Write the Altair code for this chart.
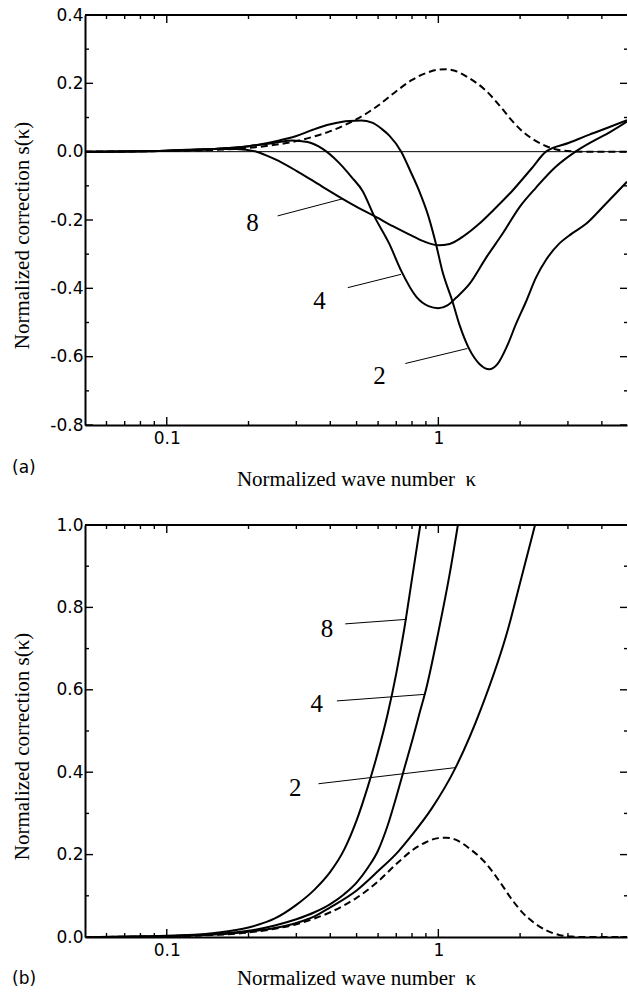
import altair as alt
import pandas as pd

# ---------------- data ----------------
# panel (a) — solid curves labelled 2, 4, 8 and the dashed reference curve
k_a2 = [0.05, 0.1, 0.15, 0.2, 0.26, 0.3, 0.345, 0.4, 0.47, 0.52, 0.57, 0.62, 0.66, 0.73, 0.79, 0.85,
        0.92, 0.98, 1.035, 1.126, 1.2, 1.3, 1.42, 1.54, 1.65, 1.8, 1.93, 2.1, 2.29, 2.5, 2.78, 3.1,
        3.49, 4.13, 4.95]
s_a2 = [0.0, 0.003, 0.008, 0.016, 0.033, 0.046, 0.064, 0.08, 0.09, 0.091, 0.085, 0.066, 0.047, 0.0,
        -0.058, -0.115, -0.19, -0.27, -0.35, -0.437, -0.51, -0.578, -0.622, -0.637, -0.622, -0.565,
        -0.505, -0.44, -0.368, -0.315, -0.27, -0.24, -0.212, -0.153, -0.088]

k_a4 = [0.05, 0.1, 0.15, 0.2, 0.25, 0.29, 0.33, 0.375, 0.43, 0.48, 0.526, 0.58, 0.66, 0.73, 0.83,
        0.92, 1.0, 1.08, 1.165, 1.3, 1.5, 1.72, 2.0, 2.29, 2.7, 3.2, 3.7, 4.3, 4.95]
s_a4 = [0.0, 0.003, 0.008, 0.016, 0.026, 0.033, 0.028, 0.008, -0.032, -0.075, -0.115, -0.188, -0.27,
        -0.349, -0.425, -0.452, -0.458, -0.45, -0.427, -0.388, -0.31, -0.241, -0.16, -0.105, -0.045,
        0.0, 0.03, 0.058, 0.088]

k_a8 = [0.05, 0.1, 0.15, 0.18, 0.214, 0.25, 0.3, 0.37, 0.444, 0.51, 0.58, 0.68, 0.78, 0.88, 1.0, 1.1,
        1.25, 1.41, 1.6, 1.87, 2.2, 2.49, 3.03, 3.6, 4.2, 4.95]
s_a8 = [0.0, 0.003, 0.008, 0.008, 0.0, -0.022, -0.056, -0.1, -0.138, -0.165, -0.188, -0.218, -0.242,
        -0.262, -0.274, -0.27, -0.245, -0.212, -0.17, -0.115, -0.05, 0.0, 0.026, 0.05, 0.07, 0.092]

k_dash = [0.05, 0.1, 0.15, 0.2, 0.25, 0.3, 0.35, 0.4, 0.45, 0.5, 0.6, 0.7, 0.8, 0.9, 1.0, 1.07, 1.15,
          1.3, 1.5, 1.7, 1.87, 2.05, 2.29, 2.5, 2.78, 3.1, 3.5, 4.95]
s_dash = [0.0, 0.002, 0.005, 0.011, 0.02, 0.031, 0.045, 0.06, 0.077, 0.095, 0.135, 0.177, 0.21, 0.23,
          0.24, 0.241, 0.237, 0.215, 0.178, 0.13, 0.09, 0.058, 0.031, 0.016, 0.005, 0.001, 0.0, 0.0]

# panel (b)
k_b2 = [0.05, 0.1, 0.15, 0.2, 0.25, 0.3, 0.35, 0.4, 0.5, 0.6, 0.713, 0.796, 0.943, 1.155, 1.44, 1.81,
        2.0, 2.27]
s_b2 = [0.0, 0.002, 0.006, 0.013, 0.022, 0.034, 0.05, 0.072, 0.113, 0.16, 0.208, 0.246, 0.311, 0.41,
        0.556, 0.75, 0.86, 1.0]

k_b4 = [0.05, 0.1, 0.15, 0.2, 0.25, 0.3, 0.35, 0.4, 0.45, 0.5, 0.55, 0.6, 0.65, 0.7, 0.75, 0.8, 0.85,
        0.9, 1.0, 1.1, 1.18]
s_b4 = [0.0, 0.002, 0.007, 0.015, 0.028, 0.043, 0.06, 0.08, 0.104, 0.132, 0.168, 0.21, 0.27, 0.34,
        0.41, 0.475, 0.54, 0.6, 0.74, 0.88, 1.0]

k_b8 = [0.05, 0.1, 0.15, 0.2, 0.25, 0.3, 0.35, 0.4, 0.45, 0.5, 0.55, 0.6, 0.65, 0.7, 0.75, 0.8, 0.858]
s_b8 = [0.0, 0.003, 0.01, 0.023, 0.045, 0.078, 0.115, 0.158, 0.212, 0.283, 0.365, 0.45, 0.54, 0.64,
        0.75, 0.87, 1.0]

# curve labels and leader lines
lab_text = ["8", "4", "2"]
lab_a_k = [0.207, 0.365, 0.607]
lab_a_s = [-0.209, -0.437, -0.656]
lead_a_k1 = [0.256, 0.464, 0.756]
lead_a_s1 = [-0.188, -0.398, -0.62]
lead_a_k2 = [0.444, 0.729, 1.28]
lead_a_s2 = [-0.138, -0.359, -0.576]

lab_b_k = [0.389, 0.357, 0.297]
lab_b_s = [0.747, 0.565, 0.362]
lead_b_k1 = [0.454, 0.423, 0.362]
lead_b_s1 = [0.76, 0.573, 0.372]
lead_b_k2 = [0.765, 0.894, 1.152]
lead_b_s2 = [0.771, 0.589, 0.411]

# axis ticks
x_major = [0.1, 1]
x_minor = [0.06, 0.07, 0.08, 0.09, 0.2, 0.3, 0.4, 0.5, 0.6, 0.7, 0.8, 0.9, 2, 3, 4]
ya_major = [-0.8, -0.6, -0.4, -0.2, 0.0, 0.2, 0.4]
ya_minor = [-0.7, -0.5, -0.3, -0.1, 0.1, 0.3]
yb_major = [0.0, 0.2, 0.4, 0.6, 0.8, 1.0]
yb_minor = [0.1, 0.3, 0.5, 0.7, 0.9]
x_domain = [0.05, 4.95]
ya_domain = [-0.8, 0.4]
yb_domain = [0.0, 1.0]

# ---------------- layout ----------------
W = 542
HA = 410
HB = 412
XTITLE = "Normalized wave number\u00a0\u00a0κ"
YTITLE = "Normalized correction s(κ)"
SANS = "DejaVu Sans"
SERIF = "Liberation Serif"

xscale = alt.Scale(type="log", domain=x_domain, nice=False)

label_expr = "datum.value < 0 ? '-' + format(-datum.value, '.1f') : format(datum.value, '.1f')"


def curves_df(pairs):
    rows = []
    for name, ks, ss in pairs:
        for k, s in zip(ks, ss):
            rows.append({"series": name, "k": k, "s": s})
    return pd.DataFrame(rows)


def panel(solid_pairs, yscale_dom, H, ymaj, ymin, labk, labs, l_k1, l_s1, l_k2, l_s2,
          letter, letter_y, title_y, zero_line):
    ys = alt.Scale(domain=yscale_dom, nice=False, zero=False)
    x_axis = alt.Axis(values=x_major, format="~g", title=XTITLE, titleY=title_y,
                      titleBaseline="alphabetic", labelPadding=5, domain=True, ticks=False,
                      grid=False)
    y_axis = alt.Axis(values=ymaj, labelExpr=label_expr, title=YTITLE, titleX=-57,
                      titleY=H / 2 + 15, titleBaseline="alphabetic", titleAngle=270,
                      titleAlign="center", labelPadding=2, domain=True, ticks=False, grid=False)

    def X(f):
        return alt.X(f, scale=xscale, axis=x_axis)

    def Y(f):
        return alt.Y(f, scale=ys, axis=y_axis)

    solid = alt.Chart(curves_df(solid_pairs)).mark_line(
        color="black", strokeWidth=2, interpolate="monotone", clip=True
    ).encode(x=X("k:Q"), y=Y("s:Q"), detail="series:N")
    dashed = alt.Chart(pd.DataFrame({"k": k_dash, "s": s_dash})).mark_line(
        color="black", strokeWidth=2, strokeDash=[7, 4], interpolate="monotone", clip=True
    ).encode(x=X("k:Q"), y=Y("s:Q"))

    layers = [solid, dashed]

    if zero_line is not None:
        layers.append(alt.Chart(pd.DataFrame({"s": zero_line})).mark_rule(
            color="black", strokeWidth=1).encode(y=Y("s:Q")))

    # top frame line at the upper end of the y domain
    layers.append(alt.Chart(pd.DataFrame({"s": [yscale_dom[1]]})).mark_rule(
        color="black", strokeWidth=2).encode(y=Y("s:Q")))

    # inward ticks
    def xt(vals, length, top):
        y0, y1 = (0, length) if top else (H, H - length)
        return alt.Chart(pd.DataFrame({"k": vals})).mark_rule(
            color="black", strokeWidth=1.4).encode(x=X("k:Q"), y=alt.value(y0), y2=alt.value(y1))

    def yt(vals, length, right):
        x0, x1 = (W, W - length) if right else (0, length)
        return alt.Chart(pd.DataFrame({"s": vals})).mark_rule(
            color="black", strokeWidth=1.4).encode(y=Y("s:Q"), x=alt.value(x0), x2=alt.value(x1))

    layers += [xt(x_major, 8, False), xt(x_minor, 4, False), xt(x_major, 8, True),
               xt(x_minor, 4, True), yt(ymaj, 8, False), yt(ymin, 4, False),
               yt(ymaj, 7, True), yt(ymin, 3, True)]

    # leader lines and labels
    layers.append(alt.Chart(pd.DataFrame({"k": l_k1, "s": l_s1, "k2": l_k2, "s2": l_s2})).mark_rule(
        color="black", strokeWidth=1).encode(x=X("k:Q"), x2="k2:Q", y=Y("s:Q"), y2="s2:Q"))
    layers.append(alt.Chart(pd.DataFrame({"k": labk, "s": labs, "t": lab_text})).mark_text(
        font=SERIF, fontSize=25, align="center", baseline="middle", color="black").encode(
        x=X("k:Q"), y=Y("s:Q"), text="t:N"))

    # panel letter
    layers.append(alt.Chart(pd.DataFrame({"t": [letter]})).mark_text(
        font=SANS, fontSize=17, align="left", baseline="middle", color="black",
        x=-73, y=letter_y).encode(text="t:N"))

    return alt.layer(*layers).properties(width=W, height=H)


pa = panel([("2", k_a2, s_a2), ("4", k_a4, s_a4), ("8", k_a8, s_a8)], ya_domain, HA,
           ya_major, ya_minor, lab_a_k, lab_a_s, lead_a_k1, lead_a_s1, lead_a_k2, lead_a_s2,
           "(a)", 453, 60, [0.0])
pb = panel([("2", k_b2, s_b2), ("4", k_b4, s_b4), ("8", k_b8, s_b8)], yb_domain, HB,
           yb_major, yb_minor, lab_b_k, lab_b_s, lead_b_k1, lead_b_s1, lead_b_k2, lead_b_s2,
           "(b)", 454, 47, None)

chart = alt.vconcat(pa, pb, spacing=100, bounds="flush").properties(
    padding={"left": 11, "top": 6, "right": 0, "bottom": 0},
    background="white",
).configure_view(stroke=None).configure_axis(
    labelFont=SANS, labelFontSize=17, labelColor="black",
    titleFont=SERIF, titleFontSize=21, titleFontWeight="normal", titleColor="black",
    domainColor="black", domainWidth=2,
)

chart.save("out.html", embed_options={"renderer": "svg", "actions": False})
